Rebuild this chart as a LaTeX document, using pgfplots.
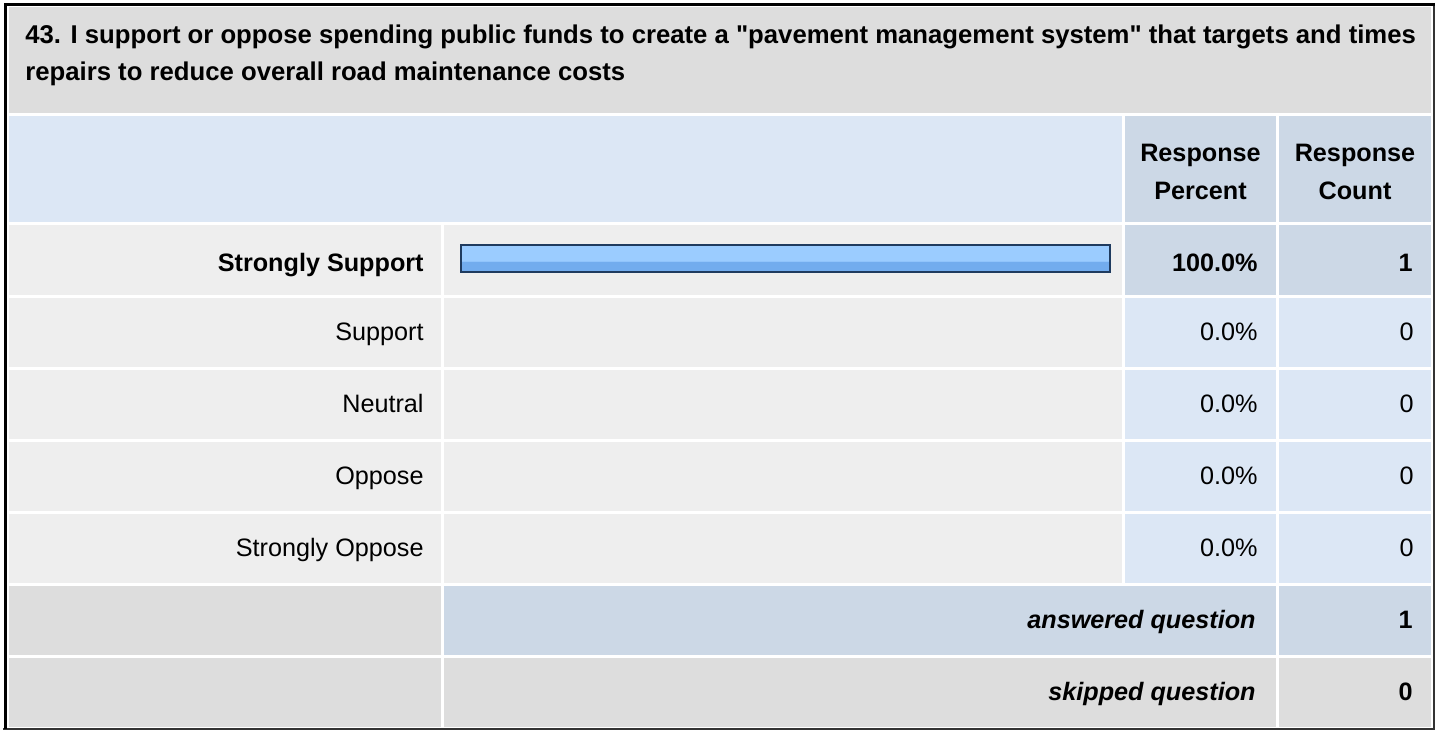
\documentclass[border=0pt]{standalone}
\usepackage{fontspec}
\setmainfont{Liberation Sans}[Ligatures=TeXOff]
\usepackage{pgfplots}
\pgfplotsset{compat=1.18}

\definecolor{titlegray}{HTML}{DDDDDD}
\definecolor{rowgray}{HTML}{EEEEEE}
\definecolor{hdrblue}{HTML}{DCE7F5}
\definecolor{cellblue}{HTML}{CCD8E6}
\definecolor{barnavy}{HTML}{1F3B5F}
\definecolor{barT}{HTML}{C6E2FF}
\definecolor{barA}{HTML}{B2D7FF}
\definecolor{barB}{HTML}{9BCCFF}
\definecolor{barC}{HTML}{72ACEE}

% stripes of the bar, bottom (0bp) to top (100bp)
\pgfdeclareverticalshading{barshade}{100bp}{
  color(0bp)=(barA); color(8bp)=(barA);
  color(8.5bp)=(barB); color(26bp)=(barB);
  color(26.5bp)=(barC); color(45bp)=(barC);
  color(45.5bp)=(barB); color(76bp)=(barB);
  color(76.5bp)=(barA); color(90bp)=(barA);
  color(90.5bp)=(barT); color(100bp)=(barT)}

% one pixel of the reference = 0.5pt
\tikzset{txt/.style={font=\fontsize{12.6}{14}\selectfont, inner sep=0pt},
         bld/.style={font=\fontsize{12.6}{14}\selectfont\bfseries, inner sep=0pt},
         ttl/.style={font=\fontsize{12.85}{14}\selectfont\bfseries, inner sep=0pt},
         bit/.style={font=\fontsize{12.6}{14}\selectfont\bfseries\itshape, inner sep=0pt}}

\begin{document}
\begin{tikzpicture}
% table cells, in pixels from the top left
\begin{scope}[shift={(0pt,365pt)}, x=0.5pt, y=-0.5pt]
  \path (0,0) rectangle (1437,730);
  % title band
  \fill[titlegray] (9,7) rectangle (1431,113);
  % header
  \fill[hdrblue] (9,116) rectangle (1122,222);
  \fill[cellblue] (1125,116) rectangle (1276,222);
  \fill[cellblue] (1279,116) rectangle (1431,222);
  % answer rows
  \foreach \ya/\yb/\cc in {225/295/cellblue, 298/367/hdrblue, 370/439/hdrblue, 442/511/hdrblue, 514/583/hdrblue}{
    \fill[rowgray] (9,\ya) rectangle (441,\yb);
    \fill[rowgray] (444,\ya) rectangle (1122,\yb);
    \fill[\cc] (1125,\ya) rectangle (1276,\yb);
    \fill[\cc] (1279,\ya) rectangle (1431,\yb);
  }
  % footer rows
  \fill[titlegray] (9,586) rectangle (441,655);
  \fill[cellblue] (444,586) rectangle (1276,655);
  \fill[cellblue] (1279,586) rectangle (1431,655);
  \fill[titlegray] (9,658) rectangle (441,727);
  \fill[titlegray] (444,658) rectangle (1276,727);
  \fill[titlegray] (1279,658) rectangle (1431,727);
  % outer frame
  \draw[black!80, line width=1pt] (1434,3) -- (1434,729) -- (3,729);
  \draw[black, line width=1.5pt] (5,729) -- (5,4.5) -- (1435,4.5);

  % texts
  \node[ttl, anchor=base west] at (25,43) {43. I support or oppose spending public funds to create a "pavement management system" that targets and times};
  \node[ttl, anchor=base west] at (25,80) {repairs to reduce overall road maintenance costs};
  \node[bld, anchor=base] at (1200.5,161) {Response};
  \node[bld, anchor=base] at (1200.5,199) {Percent};
  \node[bld, anchor=base] at (1355,161) {Response};
  \node[bld, anchor=base] at (1355,199) {Count};

  \node[bld, anchor=base east] at (424,271) {Strongly Support};
  \node[bld, anchor=base east] at (1258,271) {100.0\%};
  \node[bld, anchor=base east] at (1413,271) {1};
  \foreach \yy/\lab in {340/Support, 412/Neutral, 484/Oppose, 556/Strongly Oppose}{
    \node[txt, anchor=base east] at (424,\yy) {\lab};
    \node[txt, anchor=base east] at (1258,\yy) {0.0\%};
    \node[txt, anchor=base east] at (1414,\yy) {0};
  }
  \node[bit, anchor=base east] at (1256,628) {answered question};
  \node[bld, anchor=base east] at (1413,628) {1};
  \node[bit, anchor=base east] at (1256,700) {skipped question};
  \node[bld, anchor=base east] at (1413,700) {0};
\end{scope}

% bar column: 0% at x=461 px, 100% at x=1110 px; rows 225..583 px
\begin{axis}[at={(230.5pt,253pt)}, anchor=north west,
    scale only axis, width=324.5pt, height=180pt,
    xmin=0, xmax=100, ymin=-0.5, ymax=4.5, y dir=reverse,
    hide axis, clip=false]
  \addplot[xbar, bar width=13.5pt, bar shift=0.75pt, draw=barnavy, line width=1pt,
           shading=barshade, restrict x to domain=0.01:200]
    coordinates {(100,0) (0,1) (0,2) (0,3) (0,4)};
\end{axis}
\end{tikzpicture}
\end{document}
